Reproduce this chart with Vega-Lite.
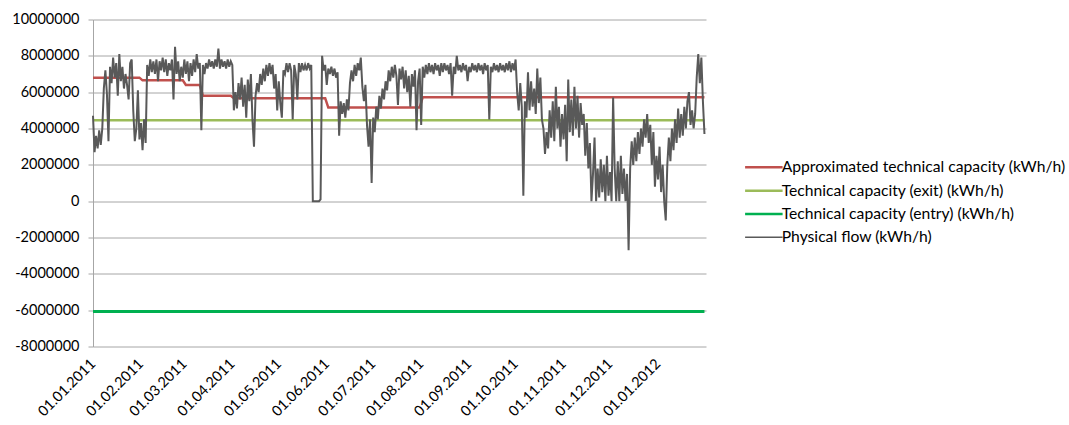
{
"$schema": "https://vega.github.io/schema/vega-lite/v6.json",
"width": 613, "height": 327,
"autosize": "none",
"padding": {"left": 93, "top": 19.5, "right": 363, "bottom": 78.5},
"background": "white",
"config": {"view": {"stroke": null}, "font": "Lato", "axis": {"labelColor": "#000000", "labelFont": "Lato"}, "legend": {"labelColor": "#000000", "labelFont": "Lato"}},
"datasets": {
"approx": [
{"t":"2011-01-01","v":6800000},{"t":"2011-01-31","v":6800000},{"t":"2011-02-02","v":6650000},{"t":"2011-02-28","v":6650000},{"t":"2011-03-02","v":6400000},{"t":"2011-03-11","v":6400000},{"t":"2011-03-13","v":5800000},{"t":"2011-03-31","v":5800000},{"t":"2011-04-02","v":5670000},{"t":"2011-05-31","v":5670000},{"t":"2011-06-02","v":5150000},{"t":"2011-07-31","v":5150000},{"t":"2011-08-02","v":5720000},{"t":"2012-01-31","v":5720000}],
"exit": [{"t":"2011-01-01","v":4450000},{"t":"2012-01-31","v":4450000}],
"entry": [{"t":"2011-01-01","v":-6080000},{"t":"2012-01-31","v":-6080000}],
"months": [{"t":"2011-01-01"},{"t":"2011-02-01"},{"t":"2011-03-01"},{"t":"2011-04-01"},{"t":"2011-05-01"},{"t":"2011-06-01"},{"t":"2011-07-01"},{"t":"2011-08-01"},{"t":"2011-09-01"},{"t":"2011-10-01"},{"t":"2011-11-01"},{"t":"2011-12-01"},{"t":"2012-01-01"},{"t":"2012-02-01"}],
"flow": [
{"t":"2011-01-01","v":4700000},{"t":"2011-01-02","v":2700000},{"t":"2011-01-03","v":3600000},{"t":"2011-01-04","v":2900000},{"t":"2011-01-05","v":3900000},{"t":"2011-01-06","v":3100000},{"t":"2011-01-07","v":4000000},{"t":"2011-01-08","v":6200000},{"t":"2011-01-09","v":7200000},{"t":"2011-01-10","v":5900000},{"t":"2011-01-11","v":3300000},{"t":"2011-01-12","v":7400000},{"t":"2011-01-13","v":6500000},{"t":"2011-01-14","v":7900000},{"t":"2011-01-15","v":6800000},{"t":"2011-01-16","v":7600000},{"t":"2011-01-17","v":5800000},{"t":"2011-01-18","v":8100000},{"t":"2011-01-19","v":6600000},{"t":"2011-01-20","v":7400000},{"t":"2011-01-21","v":6200000},{"t":"2011-01-22","v":7000000},{"t":"2011-01-23","v":6400000},{"t":"2011-01-24","v":5600000},{"t":"2011-01-25","v":7600000},{"t":"2011-01-26","v":7800000},{"t":"2011-01-27","v":5000000},{"t":"2011-01-28","v":3300000},{"t":"2011-01-29","v":4000000},{"t":"2011-01-30","v":6100000},{"t":"2011-01-31","v":3400000},
{"t":"2011-02-01","v":4300000},{"t":"2011-02-02","v":2800000},{"t":"2011-02-03","v":4500000},{"t":"2011-02-04","v":3200000},{"t":"2011-02-05","v":7500000},{"t":"2011-02-06","v":6900000},{"t":"2011-02-07","v":7800000},{"t":"2011-02-08","v":7100000},{"t":"2011-02-09","v":7700000},{"t":"2011-02-10","v":7000000},{"t":"2011-02-11","v":7800000},{"t":"2011-02-12","v":6600000},{"t":"2011-02-13","v":7700000},{"t":"2011-02-14","v":7200000},{"t":"2011-02-15","v":7900000},{"t":"2011-02-16","v":7100000},{"t":"2011-02-17","v":7800000},{"t":"2011-02-18","v":6900000},{"t":"2011-02-19","v":7600000},{"t":"2011-02-20","v":7200000},{"t":"2011-02-21","v":7800000},{"t":"2011-02-22","v":5600000},{"t":"2011-02-23","v":8500000},{"t":"2011-02-24","v":7000000},{"t":"2011-02-25","v":7700000},{"t":"2011-02-26","v":6600000},{"t":"2011-02-27","v":7400000},{"t":"2011-02-28","v":6800000},
{"t":"2011-03-01","v":7800000},{"t":"2011-03-02","v":7000000},{"t":"2011-03-03","v":7700000},{"t":"2011-03-04","v":6600000},{"t":"2011-03-05","v":7600000},{"t":"2011-03-06","v":6900000},{"t":"2011-03-07","v":7800000},{"t":"2011-03-08","v":7100000},{"t":"2011-03-09","v":8100000},{"t":"2011-03-10","v":7300000},{"t":"2011-03-11","v":7600000},{"t":"2011-03-12","v":3900000},{"t":"2011-03-13","v":7500000},{"t":"2011-03-14","v":7000000},{"t":"2011-03-15","v":7600000},{"t":"2011-03-16","v":7300000},{"t":"2011-03-17","v":7800000},{"t":"2011-03-18","v":7400000},{"t":"2011-03-19","v":7700000},{"t":"2011-03-20","v":7300000},{"t":"2011-03-21","v":7800000},{"t":"2011-03-22","v":7400000},{"t":"2011-03-23","v":8400000},{"t":"2011-03-24","v":7300000},{"t":"2011-03-25","v":7800000},{"t":"2011-03-26","v":7400000},{"t":"2011-03-27","v":7700000},{"t":"2011-03-28","v":7300000},{"t":"2011-03-29","v":7800000},{"t":"2011-03-30","v":7400000},{"t":"2011-03-31","v":7700000},
{"t":"2011-04-01","v":7500000},{"t":"2011-04-02","v":5000000},{"t":"2011-04-03","v":6000000},{"t":"2011-04-04","v":5100000},{"t":"2011-04-05","v":6500000},{"t":"2011-04-06","v":5600000},{"t":"2011-04-07","v":6800000},{"t":"2011-04-08","v":5200000},{"t":"2011-04-09","v":6400000},{"t":"2011-04-10","v":4600000},{"t":"2011-04-11","v":6700000},{"t":"2011-04-12","v":5500000},{"t":"2011-04-13","v":7000000},{"t":"2011-04-14","v":4500000},{"t":"2011-04-15","v":3000000},{"t":"2011-04-16","v":5800000},{"t":"2011-04-17","v":6500000},{"t":"2011-04-18","v":6000000},{"t":"2011-04-19","v":7000000},{"t":"2011-04-20","v":6400000},{"t":"2011-04-21","v":7300000},{"t":"2011-04-22","v":6600000},{"t":"2011-04-23","v":7500000},{"t":"2011-04-24","v":6900000},{"t":"2011-04-25","v":7600000},{"t":"2011-04-26","v":7000000},{"t":"2011-04-27","v":7500000},{"t":"2011-04-28","v":6200000},{"t":"2011-04-29","v":7000000},{"t":"2011-04-30","v":5000000},
{"t":"2011-05-01","v":6600000},{"t":"2011-05-02","v":5400000},{"t":"2011-05-03","v":4600000},{"t":"2011-05-04","v":7200000},{"t":"2011-05-05","v":7000000},{"t":"2011-05-06","v":7600000},{"t":"2011-05-07","v":7100000},{"t":"2011-05-08","v":7600000},{"t":"2011-05-09","v":7200000},{"t":"2011-05-10","v":4500000},{"t":"2011-05-11","v":7500000},{"t":"2011-05-12","v":7000000},{"t":"2011-05-13","v":5600000},{"t":"2011-05-14","v":7600000},{"t":"2011-05-15","v":7100000},{"t":"2011-05-16","v":7600000},{"t":"2011-05-17","v":7200000},{"t":"2011-05-18","v":7500000},{"t":"2011-05-19","v":7200000},{"t":"2011-05-20","v":7600000},{"t":"2011-05-21","v":7300000},{"t":"2011-05-22","v":7500000},{"t":"2011-05-23","v":0},{"t":"2011-05-24","v":0},{"t":"2011-05-25","v":0},{"t":"2011-05-26","v":0},{"t":"2011-05-27","v":0},{"t":"2011-05-28","v":100000},{"t":"2011-05-29","v":8000000},{"t":"2011-05-30","v":7200000},{"t":"2011-05-31","v":7500000},
{"t":"2011-06-01","v":6400000},{"t":"2011-06-02","v":7300000},{"t":"2011-06-03","v":7000000},{"t":"2011-06-04","v":7400000},{"t":"2011-06-05","v":6900000},{"t":"2011-06-06","v":7300000},{"t":"2011-06-07","v":6800000},{"t":"2011-06-08","v":7100000},{"t":"2011-06-09","v":3600000},{"t":"2011-06-10","v":5500000},{"t":"2011-06-11","v":4800000},{"t":"2011-06-12","v":5400000},{"t":"2011-06-13","v":4600000},{"t":"2011-06-14","v":5600000},{"t":"2011-06-15","v":5000000},{"t":"2011-06-16","v":6500000},{"t":"2011-06-17","v":7200000},{"t":"2011-06-18","v":6600000},{"t":"2011-06-19","v":7500000},{"t":"2011-06-20","v":6900000},{"t":"2011-06-21","v":7600000},{"t":"2011-06-22","v":7200000},{"t":"2011-06-23","v":7900000},{"t":"2011-06-24","v":6300000},{"t":"2011-06-25","v":5500000},{"t":"2011-06-26","v":6400000},{"t":"2011-06-27","v":4200000},{"t":"2011-06-28","v":3000000},{"t":"2011-06-29","v":4500000},{"t":"2011-06-30","v":1000000},
{"t":"2011-07-01","v":4600000},{"t":"2011-07-02","v":3800000},{"t":"2011-07-03","v":5200000},{"t":"2011-07-04","v":4500000},{"t":"2011-07-05","v":5800000},{"t":"2011-07-06","v":5100000},{"t":"2011-07-07","v":6200000},{"t":"2011-07-08","v":5600000},{"t":"2011-07-09","v":6600000},{"t":"2011-07-10","v":6100000},{"t":"2011-07-11","v":7200000},{"t":"2011-07-12","v":6600000},{"t":"2011-07-13","v":7400000},{"t":"2011-07-14","v":6800000},{"t":"2011-07-15","v":7500000},{"t":"2011-07-16","v":6900000},{"t":"2011-07-17","v":5300000},{"t":"2011-07-18","v":7300000},{"t":"2011-07-19","v":6700000},{"t":"2011-07-20","v":7400000},{"t":"2011-07-21","v":6200000},{"t":"2011-07-22","v":7200000},{"t":"2011-07-23","v":6000000},{"t":"2011-07-24","v":6900000},{"t":"2011-07-25","v":5200000},{"t":"2011-07-26","v":7000000},{"t":"2011-07-27","v":6300000},{"t":"2011-07-28","v":7200000},{"t":"2011-07-29","v":3900000},{"t":"2011-07-30","v":6600000},{"t":"2011-07-31","v":7300000},
{"t":"2011-08-01","v":4200000},{"t":"2011-08-02","v":7400000},{"t":"2011-08-03","v":6800000},{"t":"2011-08-04","v":7500000},{"t":"2011-08-05","v":7000000},{"t":"2011-08-06","v":7600000},{"t":"2011-08-07","v":7100000},{"t":"2011-08-08","v":7500000},{"t":"2011-08-09","v":7000000},{"t":"2011-08-10","v":7600000},{"t":"2011-08-11","v":7200000},{"t":"2011-08-12","v":7500000},{"t":"2011-08-13","v":6900000},{"t":"2011-08-14","v":7600000},{"t":"2011-08-15","v":7100000},{"t":"2011-08-16","v":7600000},{"t":"2011-08-17","v":7200000},{"t":"2011-08-18","v":7500000},{"t":"2011-08-19","v":7000000},{"t":"2011-08-20","v":7600000},{"t":"2011-08-21","v":5800000},{"t":"2011-08-22","v":7400000},{"t":"2011-08-23","v":7000000},{"t":"2011-08-24","v":8000000},{"t":"2011-08-25","v":7200000},{"t":"2011-08-26","v":7500000},{"t":"2011-08-27","v":7100000},{"t":"2011-08-28","v":7600000},{"t":"2011-08-29","v":7200000},{"t":"2011-08-30","v":7500000},{"t":"2011-08-31","v":6600000},
{"t":"2011-09-01","v":7400000},{"t":"2011-09-02","v":7100000},{"t":"2011-09-03","v":7600000},{"t":"2011-09-04","v":7200000},{"t":"2011-09-05","v":7500000},{"t":"2011-09-06","v":7100000},{"t":"2011-09-07","v":7600000},{"t":"2011-09-08","v":7200000},{"t":"2011-09-09","v":7500000},{"t":"2011-09-10","v":7000000},{"t":"2011-09-11","v":7600000},{"t":"2011-09-12","v":7200000},{"t":"2011-09-13","v":7500000},{"t":"2011-09-14","v":4500000},{"t":"2011-09-15","v":7400000},{"t":"2011-09-16","v":7100000},{"t":"2011-09-17","v":7600000},{"t":"2011-09-18","v":7200000},{"t":"2011-09-19","v":7500000},{"t":"2011-09-20","v":7100000},{"t":"2011-09-21","v":7600000},{"t":"2011-09-22","v":7200000},{"t":"2011-09-23","v":7500000},{"t":"2011-09-24","v":7100000},{"t":"2011-09-25","v":7600000},{"t":"2011-09-26","v":7200000},{"t":"2011-09-27","v":7700000},{"t":"2011-09-28","v":7100000},{"t":"2011-09-29","v":7600000},{"t":"2011-09-30","v":7200000},
{"t":"2011-10-01","v":7800000},{"t":"2011-10-02","v":6000000},{"t":"2011-10-03","v":5000000},{"t":"2011-10-04","v":6500000},{"t":"2011-10-05","v":5200000},{"t":"2011-10-06","v":300000},{"t":"2011-10-07","v":5500000},{"t":"2011-10-08","v":4600000},{"t":"2011-10-09","v":7100000},{"t":"2011-10-10","v":5000000},{"t":"2011-10-11","v":6600000},{"t":"2011-10-12","v":5200000},{"t":"2011-10-13","v":6200000},{"t":"2011-10-14","v":4800000},{"t":"2011-10-15","v":7300000},{"t":"2011-10-16","v":5400000},{"t":"2011-10-17","v":6800000},{"t":"2011-10-18","v":4500000},{"t":"2011-10-19","v":4000000},{"t":"2011-10-20","v":2600000},{"t":"2011-10-21","v":3800000},{"t":"2011-10-22","v":2900000},{"t":"2011-10-23","v":5000000},{"t":"2011-10-24","v":3500000},{"t":"2011-10-25","v":5500000},{"t":"2011-10-26","v":3300000},{"t":"2011-10-27","v":6300000},{"t":"2011-10-28","v":4000000},{"t":"2011-10-29","v":5200000},{"t":"2011-10-30","v":3000000},{"t":"2011-10-31","v":4800000},
{"t":"2011-11-01","v":3400000},{"t":"2011-11-02","v":5300000},{"t":"2011-11-03","v":2200000},{"t":"2011-11-04","v":6700000},{"t":"2011-11-05","v":3800000},{"t":"2011-11-06","v":5600000},{"t":"2011-11-07","v":3600000},{"t":"2011-11-08","v":6300000},{"t":"2011-11-09","v":4000000},{"t":"2011-11-10","v":5800000},{"t":"2011-11-11","v":3500000},{"t":"2011-11-12","v":5400000},{"t":"2011-11-13","v":4200000},{"t":"2011-11-14","v":4800000},{"t":"2011-11-15","v":2500000},{"t":"2011-11-16","v":4300000},{"t":"2011-11-17","v":1800000},{"t":"2011-11-18","v":3200000},{"t":"2011-11-19","v":0},{"t":"2011-11-20","v":1500000},{"t":"2011-11-21","v":3500000},{"t":"2011-11-22","v":0},{"t":"2011-11-23","v":1800000},{"t":"2011-11-24","v":200000},{"t":"2011-11-25","v":2300000},{"t":"2011-11-26","v":500000},{"t":"2011-11-27","v":2000000},{"t":"2011-11-28","v":0},{"t":"2011-11-29","v":2500000},{"t":"2011-11-30","v":300000},
{"t":"2011-12-01","v":1600000},{"t":"2011-12-02","v":0},{"t":"2011-12-03","v":5700000},{"t":"2011-12-04","v":1800000},{"t":"2011-12-05","v":0},{"t":"2011-12-06","v":2200000},{"t":"2011-12-07","v":0},{"t":"2011-12-08","v":2500000},{"t":"2011-12-09","v":400000},{"t":"2011-12-10","v":1800000},{"t":"2011-12-11","v":0},{"t":"2011-12-12","v":1500000},{"t":"2011-12-13","v":-2700000},{"t":"2011-12-14","v":1800000},{"t":"2011-12-15","v":3300000},{"t":"2011-12-16","v":2000000},{"t":"2011-12-17","v":3500000},{"t":"2011-12-18","v":2200000},{"t":"2011-12-19","v":3800000},{"t":"2011-12-20","v":2600000},{"t":"2011-12-21","v":4000000},{"t":"2011-12-22","v":3000000},{"t":"2011-12-23","v":4500000},{"t":"2011-12-24","v":3500000},{"t":"2011-12-25","v":4800000},{"t":"2011-12-26","v":3200000},{"t":"2011-12-27","v":4200000},{"t":"2011-12-28","v":2000000},{"t":"2011-12-29","v":3800000},{"t":"2011-12-30","v":800000},{"t":"2011-12-31","v":2500000},
{"t":"2012-01-01","v":1200000},{"t":"2012-01-02","v":3000000},{"t":"2012-01-03","v":500000},{"t":"2012-01-04","v":2000000},{"t":"2012-01-05","v":0},{"t":"2012-01-06","v":-1060000},{"t":"2012-01-07","v":2000000},{"t":"2012-01-08","v":3500000},{"t":"2012-01-09","v":2200000},{"t":"2012-01-10","v":4000000},{"t":"2012-01-11","v":2800000},{"t":"2012-01-12","v":4500000},{"t":"2012-01-13","v":3200000},{"t":"2012-01-14","v":5100000},{"t":"2012-01-15","v":3500000},{"t":"2012-01-16","v":4800000},{"t":"2012-01-17","v":3600000},{"t":"2012-01-18","v":5200000},{"t":"2012-01-19","v":4000000},{"t":"2012-01-20","v":5500000},{"t":"2012-01-21","v":6000000},{"t":"2012-01-22","v":4200000},{"t":"2012-01-23","v":5000000},{"t":"2012-01-24","v":4000000},{"t":"2012-01-25","v":4800000},{"t":"2012-01-26","v":6800000},{"t":"2012-01-27","v":8100000},{"t":"2012-01-28","v":6500000},{"t":"2012-01-29","v":7900000},{"t":"2012-01-30","v":5500000},{"t":"2012-01-31","v":3700000}
]
},
"encoding": {
"x": {"field": "t", "type": "temporal",
"scale": {"type": "utc", "domain": [{"year": 2011, "month": 1, "date": 1, "utc": true}, {"year": 2012, "month": 2, "date": 1, "utc": true}]},
"axis": {"title": null, "values": [{"year":2011,"month":1,"date":1,"utc":true},{"year":2011,"month":2,"date":1,"utc":true},{"year":2011,"month":3,"date":1,"utc":true},{"year":2011,"month":4,"date":1,"utc":true},{"year":2011,"month":5,"date":1,"utc":true},{"year":2011,"month":6,"date":1,"utc":true},{"year":2011,"month":7,"date":1,"utc":true},{"year":2011,"month":8,"date":1,"utc":true},{"year":2011,"month":9,"date":1,"utc":true},{"year":2011,"month":10,"date":1,"utc":true},{"year":2011,"month":11,"date":1,"utc":true},{"year":2011,"month":12,"date":1,"utc":true},{"year":2012,"month":1,"date":1,"utc":true}],
"labelExpr": "utcFormat(datum.value, '%d.%m.%Y')", "labelAngle": -45, "labelAlign": "right", "labelBaseline": "middle", "labelPadding": 15, "labelFontSize": 14.5, "labelColor": "#000000", "domain": false, "ticks": false, "grid": false, "labelOverlap": false, "labelBound": false, "labelFlush": false}},
"y": {"field": "v", "type": "quantitative",
"scale": {"domain": [-8000000, 10000000], "nice": false, "zero": false},
"axis": {"title": null, "values": [-8000000,-6000000,-4000000,-2000000,0,2000000,4000000,6000000,8000000,10000000], "labelExpr": "datum.value + ''", "grid": true, "gridColor": "#A6A6A6", "gridWidth": 1, "domainColor": "#A6A6A6", "domainWidth": 1, "tickColor": "#A6A6A6", "tickSize": 5, "labelPadding": 9, "labelFontSize": 14.5, "labelColor": "#000000", "labelFlush": false, "labelOverlap": false}}
},
"layer": [
{
"data": {"name": "approx"},
"mark": {"type": "line", "strokeWidth": 2.5},
"encoding": {
"color": {"datum": "Approximated technical capacity (kWh/h)", "type": "nominal",
"scale": {"domain": ["Approximated technical capacity (kWh/h)", "Technical capacity (exit) (kWh/h)", "Technical capacity (entry) (kWh/h)", "Physical flow (kWh/h)"], "range": ["#C0504D", "#9BBB59", "#00B050", "#595959"]},
"legend": {"title": null, "orient": "none", "legendX": 663, "legendY": 140, "padding": 0, "symbolType": "M-2.5,0H2.5", "symbolSize": 225, "symbolStrokeWidth": 2.5, "labelOffset": 10, "labelFontSize": 15.7, "labelLimit": 500, "rowPadding": 6.3,
"encode": {"symbols": {"update": {"strokeWidth": {"signal": "datum.value === 'Physical flow (kWh/h)' ? 1.3 : 2.5"}}}}}}
}
},
{
"data": {"name": "months"},
"mark": {"type": "line", "color": "#A6A6A6", "strokeWidth": 1},
"encoding": {"y": {"datum": 0, "type": "quantitative"}}
},
{
"data": {"name": "months"},
"mark": {"type": "rule", "color": "#A6A6A6", "strokeWidth": 1},
"encoding": {"y": {"datum": 0, "type": "quantitative"}, "y2": {"datum": -330000}}
},
{
"data": {"name": "exit"},
"mark": {"type": "line", "strokeWidth": 2.5},
"encoding": {"color": {"datum": "Technical capacity (exit) (kWh/h)", "type": "nominal"}}
},
{
"data": {"name": "entry"},
"mark": {"type": "line", "strokeWidth": 3},
"encoding": {"color": {"datum": "Technical capacity (entry) (kWh/h)", "type": "nominal"}}
},
{
"data": {"name": "flow"},
"mark": {"type": "line", "strokeWidth": 2},
"encoding": {"color": {"datum": "Physical flow (kWh/h)", "type": "nominal"}}
}
]
}
